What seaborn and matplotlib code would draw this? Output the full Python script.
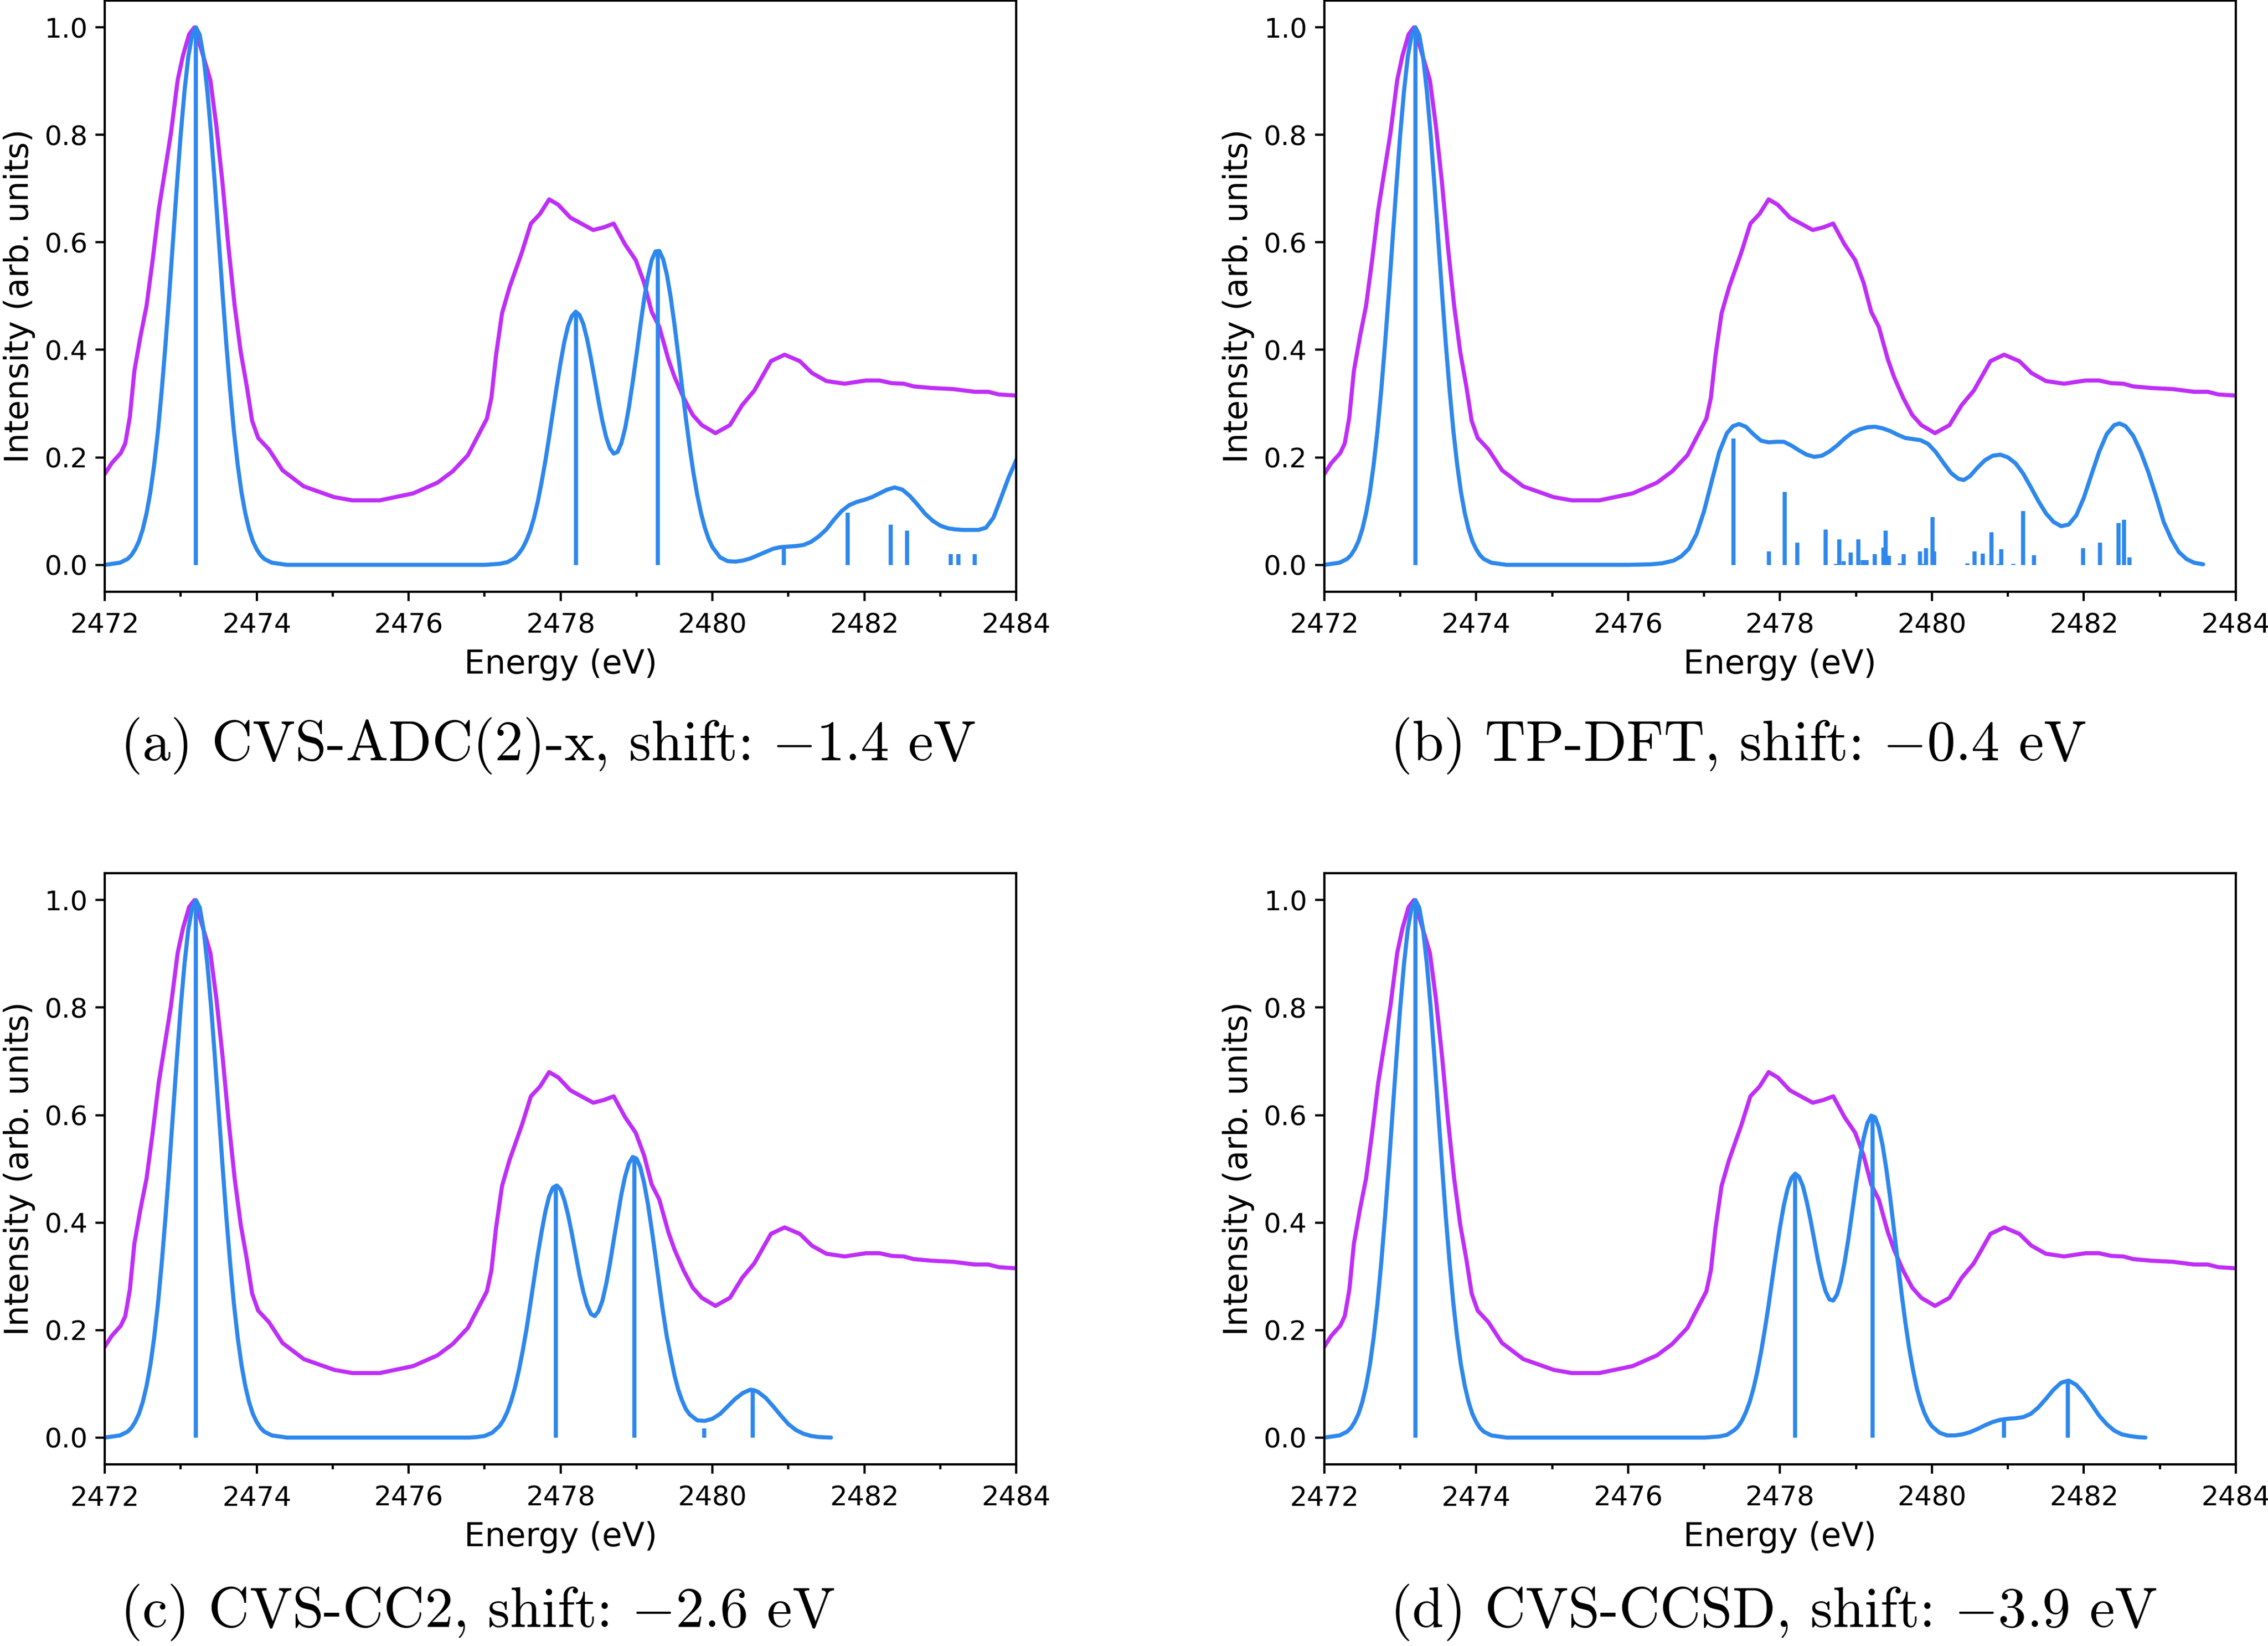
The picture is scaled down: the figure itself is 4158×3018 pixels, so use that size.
import numpy as np
import matplotlib
matplotlib.use("Agg")
import matplotlib.pyplot as plt
from matplotlib.ticker import MultipleLocator
import seaborn as sns

# colours
calcColor = "#2e87ec"
expColor = "#bf2ef7"

# experimental S K-edge spectrum (same in every panel)
exp_e = [2472.0, 2472.09, 2472.21, 2472.27, 2472.33, 2472.39, 2472.47, 2472.55, 2472.63, 2472.71,
         2472.79, 2472.87, 2472.96, 2473.03, 2473.11, 2473.18, 2473.27, 2473.39, 2473.47, 2473.55,
         2473.63, 2473.71, 2473.79, 2473.87, 2473.94, 2474.02, 2474.16, 2474.34, 2474.62, 2475.02,
         2475.26, 2475.62, 2476.06, 2476.38, 2476.58, 2476.78, 2477.03, 2477.09, 2477.15, 2477.23,
         2477.33, 2477.49, 2477.61, 2477.73, 2477.85, 2477.97, 2478.13, 2478.43, 2478.57, 2478.70,
         2478.85, 2478.99, 2479.10, 2479.20, 2479.30, 2479.42, 2479.50, 2479.62, 2479.74, 2479.86,
         2480.04, 2480.23, 2480.39, 2480.55, 2480.77, 2480.95, 2481.15, 2481.31, 2481.50, 2481.74,
         2482.02, 2482.20, 2482.36, 2482.52, 2482.65, 2482.89, 2483.17, 2483.45, 2483.63, 2483.77,
         2483.99]
exp_i = [0.169, 0.189, 0.208, 0.226, 0.275, 0.361, 0.425, 0.482, 0.567, 0.660,
         0.731, 0.802, 0.902, 0.948, 0.987, 1.0, 0.959, 0.902, 0.816, 0.710,
         0.589, 0.482, 0.396, 0.332, 0.268, 0.236, 0.215, 0.176, 0.146, 0.126,
         0.120, 0.120, 0.133, 0.153, 0.174, 0.204, 0.272, 0.311, 0.389, 0.468,
         0.517, 0.581, 0.635, 0.653, 0.680, 0.670, 0.646, 0.623, 0.628, 0.635,
         0.596, 0.567, 0.525, 0.471, 0.443, 0.382, 0.350, 0.311, 0.279, 0.260,
         0.245, 0.260, 0.297, 0.324, 0.379, 0.391, 0.379, 0.357, 0.342, 0.337,
         0.343, 0.343, 0.338, 0.337, 0.332, 0.329, 0.327, 0.322, 0.322, 0.317,
         0.315]

# first (white line) peak of the calculated spectra, identical in all panels
edge_e = [2472.0, 2472.2, 2472.3, 2472.35, 2472.4, 2472.45, 2472.5, 2472.55, 2472.6, 2472.65,
          2472.7, 2472.75, 2472.8, 2472.85, 2472.9, 2472.95, 2473.0, 2473.05, 2473.1, 2473.15,
          2473.2, 2473.25, 2473.3, 2473.35, 2473.4, 2473.45, 2473.5, 2473.55, 2473.6, 2473.65,
          2473.7, 2473.75, 2473.8, 2473.85, 2473.9, 2473.95, 2474.0, 2474.05, 2474.1, 2474.2,
          2474.4, 2476.0]
edge_i = [0.0, 0.004, 0.011, 0.018, 0.029, 0.044, 0.066, 0.096, 0.135, 0.186,
          0.249, 0.325, 0.411, 0.506, 0.607, 0.707, 0.801, 0.882, 0.946, 0.986,
          1.0, 0.986, 0.946, 0.882, 0.801, 0.707, 0.607, 0.506, 0.411, 0.325,
          0.249, 0.186, 0.135, 0.096, 0.066, 0.044, 0.029, 0.018, 0.011, 0.004,
          0.0, 0.0]

# (a) CVS-ADC(2)-x
a_e = [2477.0, 2477.2, 2477.3,
       2477.4, 2477.45, 2477.5, 2477.55, 2477.6, 2477.65, 2477.7, 2477.75, 2477.8, 2477.85,
       2477.9, 2477.95, 2478.0, 2478.05, 2478.1, 2478.15, 2478.2, 2478.25, 2478.3, 2478.35,
       2478.4, 2478.45, 2478.5, 2478.55, 2478.6, 2478.65, 2478.7, 2478.75, 2478.8, 2478.85,
       2478.9, 2478.95, 2479.0, 2479.05, 2479.1, 2479.15, 2479.2, 2479.25, 2479.3, 2479.35,
       2479.4, 2479.45, 2479.5, 2479.55, 2479.6, 2479.65, 2479.7, 2479.75, 2479.8, 2479.85,
       2479.9, 2479.95,
       2480.0, 2480.1, 2480.2, 2480.3, 2480.4, 2480.5, 2480.6, 2480.7, 2480.8, 2480.9,
       2481.0, 2481.1, 2481.2, 2481.3, 2481.4, 2481.5, 2481.6, 2481.7, 2481.8, 2481.9,
       2482.0, 2482.1, 2482.2, 2482.3, 2482.4, 2482.5, 2482.6, 2482.7, 2482.8, 2482.9,
       2483.0, 2483.1, 2483.2, 2483.3, 2483.4, 2483.5, 2483.6, 2483.7, 2483.8, 2483.9,
       2484.0]
a_i = [0.0, 0.002, 0.005,
       0.013, 0.021, 0.031, 0.045, 0.063, 0.087, 0.117, 0.153, 0.193, 0.238,
       0.285, 0.332, 0.376, 0.415, 0.445, 0.463, 0.471, 0.465, 0.448, 0.420,
       0.384, 0.345, 0.305, 0.268, 0.238, 0.217, 0.207, 0.210, 0.226, 0.254,
       0.293, 0.340, 0.391, 0.444, 0.494, 0.535, 0.567, 0.583, 0.584, 0.569,
       0.540, 0.498, 0.447, 0.390, 0.331, 0.273, 0.219, 0.171, 0.130, 0.096,
       0.069, 0.048,
       0.033, 0.014, 0.007, 0.006, 0.008, 0.012, 0.018, 0.024, 0.030, 0.033,
       0.034, 0.035, 0.037, 0.043, 0.053, 0.066, 0.084, 0.100, 0.111, 0.117,
       0.121, 0.126, 0.133, 0.140, 0.144, 0.140, 0.128, 0.112, 0.095, 0.082,
       0.073, 0.068, 0.066, 0.065, 0.065, 0.065, 0.069, 0.088, 0.125, 0.163,
       0.195]
a_stick_e = [2473.2, 2478.2, 2479.28, 2480.94, 2481.78, 2482.35, 2482.56, 2483.14, 2483.24, 2483.45]
a_stick_i = [1.0, 0.47, 0.585, 0.031, 0.097, 0.075, 0.064, 0.020, 0.020, 0.020]

# (b) TP-DFT
b_e = [2476.3, 2476.45, 2476.6, 2476.7, 2476.8, 2476.9, 2477.0, 2477.1, 2477.2, 2477.3,
       2477.38, 2477.46, 2477.55, 2477.65, 2477.75, 2477.85, 2477.95, 2478.05, 2478.15, 2478.25,
       2478.35, 2478.45, 2478.55, 2478.65, 2478.75, 2478.85, 2478.95, 2479.05, 2479.15, 2479.25,
       2479.35, 2479.45, 2479.55, 2479.65, 2479.75, 2479.85, 2479.95, 2480.05, 2480.15, 2480.25,
       2480.35, 2480.42, 2480.5, 2480.6, 2480.7, 2480.8, 2480.9, 2481.0, 2481.1, 2481.2,
       2481.3, 2481.4, 2481.5, 2481.6, 2481.7, 2481.8, 2481.9, 2482.0, 2482.1, 2482.2,
       2482.3, 2482.4, 2482.47, 2482.55, 2482.65, 2482.75, 2482.85, 2482.95, 2483.05, 2483.15,
       2483.25, 2483.35, 2483.45, 2483.57]
b_i = [0.001, 0.003, 0.008, 0.016, 0.030, 0.057, 0.100, 0.155, 0.210, 0.245,
       0.258, 0.262, 0.257, 0.243, 0.231, 0.228, 0.229, 0.229, 0.222, 0.213,
       0.205, 0.201, 0.203, 0.211, 0.222, 0.235, 0.246, 0.252, 0.256, 0.257,
       0.254, 0.249, 0.242, 0.236, 0.234, 0.232, 0.225, 0.210, 0.190, 0.171,
       0.160, 0.158, 0.165, 0.181, 0.195, 0.203, 0.205, 0.200, 0.189, 0.170,
       0.145, 0.119, 0.096, 0.080, 0.072, 0.075, 0.092, 0.125, 0.168, 0.210,
       0.243, 0.260, 0.263, 0.258, 0.240, 0.210, 0.172, 0.128, 0.080, 0.048,
       0.024, 0.011, 0.004, 0.001]
b_stick_e = [2473.2, 2477.39, 2477.85, 2478.06, 2478.23, 2478.60, 2478.74, 2478.78, 2478.84, 2478.93,
             2479.03, 2479.09, 2479.14, 2479.25, 2479.36, 2479.39, 2479.43, 2479.58, 2479.63, 2479.84,
             2479.87, 2479.92, 2480.01, 2480.03, 2480.47, 2480.56, 2480.67, 2480.78, 2480.88, 2480.91,
             2481.07, 2481.20, 2481.34, 2481.99, 2482.21, 2482.46, 2482.53, 2482.60]
b_stick_i = [1.0, 0.235, 0.025, 0.136, 0.041, 0.066, 0.002, 0.047, 0.007, 0.023,
             0.047, 0.009, 0.009, 0.020, 0.032, 0.064, 0.017, 0.003, 0.020, 0.025,
             0.002, 0.031, 0.089, 0.025, 0.003, 0.025, 0.021, 0.061, 0.002, 0.029,
             0.002, 0.100, 0.018, 0.031, 0.041, 0.078, 0.084, 0.014]

# (c) CVS-CC2
c_e = [2476.8, 2476.9, 2477.0, 2477.1,
       2477.2, 2477.25, 2477.3, 2477.35, 2477.4, 2477.45, 2477.5, 2477.55, 2477.6, 2477.65,
       2477.7, 2477.75, 2477.8, 2477.85, 2477.9, 2477.95, 2478.0, 2478.05, 2478.1, 2478.15,
       2478.2, 2478.25, 2478.3, 2478.35, 2478.4, 2478.45, 2478.5, 2478.55, 2478.6, 2478.65,
       2478.7, 2478.75, 2478.8, 2478.85, 2478.9, 2478.95, 2479.0, 2479.05, 2479.1, 2479.15,
       2479.2, 2479.25, 2479.3, 2479.35, 2479.4, 2479.45, 2479.5, 2479.55, 2479.6, 2479.65,
       2479.7,
       2479.8, 2479.9, 2480.0, 2480.1, 2480.2, 2480.3, 2480.4, 2480.5, 2480.55,
       2480.6, 2480.7, 2480.8, 2480.9, 2481.0, 2481.1, 2481.2, 2481.3, 2481.4, 2481.56]
c_i = [0.0, 0.001, 0.003, 0.009,
       0.022, 0.033, 0.048, 0.068, 0.093, 0.124, 0.160, 0.200, 0.246, 0.293,
       0.340, 0.382, 0.420, 0.449, 0.465, 0.469, 0.462, 0.442, 0.414, 0.379,
       0.341, 0.303, 0.271, 0.246, 0.230, 0.226, 0.235, 0.254, 0.285, 0.323,
       0.367, 0.410, 0.452, 0.486, 0.510, 0.522, 0.519, 0.503, 0.474, 0.435,
       0.388, 0.337, 0.284, 0.233, 0.187, 0.151, 0.116, 0.089, 0.069, 0.053,
       0.043,
       0.032, 0.031, 0.035, 0.044, 0.058, 0.072, 0.083, 0.089, 0.088,
       0.085, 0.074, 0.058, 0.041, 0.025, 0.014, 0.007, 0.003, 0.001, 0.0]
c_stick_e = [2473.2, 2477.94, 2478.97, 2479.89, 2480.53]
c_stick_i = [1.0, 0.468, 0.521, 0.017, 0.087]

# (d) CVS-CCSD
d_e = [2477.0, 2477.2, 2477.3,
       2477.4, 2477.45, 2477.5, 2477.55, 2477.6, 2477.65, 2477.7, 2477.75, 2477.8, 2477.85,
       2477.9, 2477.95, 2478.0, 2478.05, 2478.1, 2478.15, 2478.2, 2478.25, 2478.3, 2478.35,
       2478.4, 2478.45, 2478.5, 2478.55, 2478.6, 2478.65, 2478.7, 2478.75, 2478.8, 2478.85,
       2478.9, 2478.95, 2479.0, 2479.05, 2479.1, 2479.15, 2479.2, 2479.25, 2479.3, 2479.35,
       2479.4, 2479.45, 2479.5, 2479.55, 2479.6, 2479.65, 2479.7, 2479.75, 2479.8, 2479.85,
       2479.9, 2479.95,
       2480.0, 2480.1, 2480.2, 2480.3, 2480.4, 2480.5, 2480.6, 2480.7, 2480.8, 2480.9,
       2481.0, 2481.1, 2481.2, 2481.3, 2481.4, 2481.5, 2481.6, 2481.7, 2481.8, 2481.9,
       2482.0, 2482.1, 2482.2, 2482.3, 2482.4, 2482.5, 2482.6, 2482.7, 2482.81]
d_i = [0.0, 0.002, 0.005,
       0.014, 0.021, 0.032, 0.047, 0.066, 0.091, 0.122, 0.159, 0.201, 0.247,
       0.297, 0.346, 0.392, 0.432, 0.463, 0.483, 0.491, 0.485, 0.468, 0.440,
       0.406, 0.368, 0.330, 0.297, 0.272, 0.257, 0.255, 0.266, 0.290, 0.326,
       0.370, 0.420, 0.471, 0.518, 0.557, 0.585, 0.599, 0.596, 0.577, 0.544,
       0.499, 0.446, 0.387, 0.327, 0.268, 0.214, 0.166, 0.126, 0.092, 0.066,
       0.046, 0.031,
       0.021, 0.009, 0.004, 0.004, 0.006, 0.010, 0.016, 0.023, 0.029, 0.033,
       0.035, 0.036, 0.038, 0.044, 0.056, 0.072, 0.089, 0.102, 0.106, 0.098,
       0.082, 0.062, 0.041, 0.025, 0.013, 0.006, 0.003, 0.001, 0.0]
d_stick_e = [2473.2, 2478.2, 2479.22, 2480.95, 2481.79]
d_stick_i = [1.0, 0.489, 0.598, 0.032, 0.105]

captions = ["(a) CVS-ADC(2)-x, shift: $-$1.4 eV",
            "(b) TP-DFT, shift: $-$0.4 eV",
            "(c) CVS-CC2, shift: $-$2.6 eV",
            "(d) CVS-CCSD, shift: $-$3.9 eV"]

sns.set_style("ticks", {"axes.edgecolor": "black", "xtick.color": "black",
                        "ytick.color": "black", "text.color": "black",
                        "axes.labelcolor": "black"})
plt.rcParams["font.family"] = ["DejaVu Sans"]
plt.rcParams["mathtext.fontset"] = "cm"

fig = plt.figure(figsize=(13.86, 10.06), dpi=300)

# axes boxes in figure fractions
lefts = [0.0462, 0.5839, 0.0462, 0.5839]
bottoms = [0.6405, 0.6405, 0.1103, 0.1103]
width, height = 0.4019, 0.3592
capX = [0.0529, 0.6129, 0.0529, 0.6129]
capY = [0.547, 0.547, 0.0205, 0.0205]

panels = [(a_e, a_i, a_stick_e, a_stick_i),
          (b_e, b_i, b_stick_e, b_stick_i),
          (c_e, c_i, c_stick_e, c_stick_i),
          (d_e, d_i, d_stick_e, d_stick_i)]

for k, (pe, pi, se, si) in enumerate(panels):
    ax = fig.add_axes([lefts[k], bottoms[k], width, height])
    calc_e = np.concatenate([edge_e, pe])
    calc_i = np.concatenate([edge_i, pi])

    sns.lineplot(x=exp_e, y=exp_i, ax=ax, color=expColor, lw=1.8,
                 sort=False, estimator=None)
    sns.lineplot(x=calc_e, y=calc_i, ax=ax, color=calcColor, lw=1.8,
                 sort=False, estimator=None)
    ax.vlines(se, 0, si, color=calcColor, lw=1.8)

    ax.set_xlim(2472, 2484)
    ax.set_ylim(-0.05, 1.05)
    ax.set_xticks([2472, 2474, 2476, 2478, 2480, 2482, 2484])
    ax.xaxis.set_minor_locator(MultipleLocator(1))
    ax.set_yticks([0.0, 0.2, 0.4, 0.6, 0.8, 1.0])
    ax.tick_params(axis="both", which="major", labelsize=12, length=4, width=1.0)
    ax.tick_params(axis="x", which="major", pad=5)
    ax.tick_params(axis="x", which="minor", length=2.2, width=1.0)
    for sp in ax.spines.values():
        sp.set_linewidth(1.0)
    ax.set_xlabel("Energy (eV)", fontsize=14.4, labelpad=4.5)
    ax.set_ylabel("Intensity (arb. units)", fontsize=14.4)

    fig.text(capX[k], capY[k], captions[k], fontsize=25, family=["cmr10", "DejaVu Serif"],
             ha="left", va="center")

fig.savefig("out.png", dpi=300)
